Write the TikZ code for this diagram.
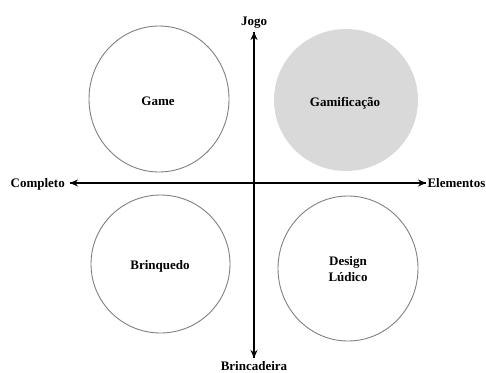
\documentclass[tikz,border=0pt]{standalone}
\usepackage{fontspec}
\setmainfont{Liberation Serif}
\usetikzlibrary{arrows.meta}
\begin{document}
\begin{tikzpicture}[x=1pt,y=-1pt,
  lbl/.style={font=\fontsize{13}{15}\selectfont\bfseries, inner sep=0pt},
  ring/.style={draw=black!50, line width=0.9pt},
  axis/.style={line width=1.2pt, -{Stealth[length=8pt,width=7pt]}}]
\useasboundingbox (0,0) rectangle (486,372);
% circles
\draw[ring] (159,99) ellipse [x radius=70, y radius=73];
\fill[black!15] (346,100) ellipse [x radius=72, y radius=71];
\draw[ring] (160.5,264) ellipse [x radius=69.5, y radius=69];
\draw[ring] (348,268.5) ellipse [x radius=70, y radius=72.5];
% labels in circles
\node[lbl] (game) at (158,101) {Game};
\node[lbl] (gami) at (345,103) {Gamificação};
\node[lbl] (brinq) at (160,266) {Brinquedo};
\node[lbl, align=center, font=\fontsize{13}{15.5}\selectfont\bfseries] (design) at (348,269) {Design\\Lúdico};
% axes
\coordinate (o) at (254,183);
\coordinate (top) at (254,32);
\coordinate (bot) at (254,358);
\coordinate (lft) at (70,183);
\coordinate (rgt) at (426,183);
\draw[axis] (bot) -- (top);
\draw[axis] (top) -- (bot);
\draw[axis] (rgt) -- (lft);
\draw[axis] (lft) -- (rgt);
% axis labels
\node[lbl, anchor=base] (jogo) at (254,25) {Jogo};
\node[lbl, anchor=base] (brinc) at (254,370.5) {Brincadeira};
\node[lbl, anchor=base east] (compl) at (65,187.5) {Completo};
\node[lbl, anchor=base east] (elem) at (485.5,187.5) {Elementos};
\end{tikzpicture}
\end{document}
